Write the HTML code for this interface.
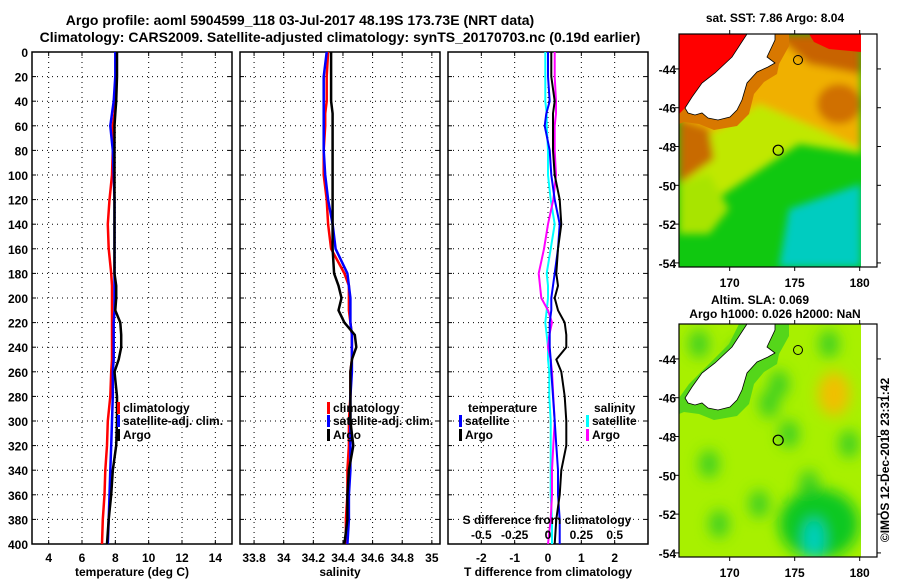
<!DOCTYPE html>
<html><head><meta charset="utf-8"><style>
html,body{margin:0;padding:0;background:#fff}
svg{display:block;font-family:"Liberation Sans",Arial,sans-serif;font-weight:bold}
</style></head><body>
<svg id="chart" width="900" height="580" viewBox="0 0 900 580" xmlns="http://www.w3.org/2000/svg">
<defs>
<filter id="blur3" x="-20%" y="-20%" width="140%" height="140%"><feGaussianBlur stdDeviation="4"/></filter>
<filter id="blur6" x="-30%" y="-30%" width="160%" height="160%"><feGaussianBlur stdDeviation="7"/></filter>
<clipPath id="clipTop"><rect x="679" y="34" width="182" height="233"/></clipPath>
<clipPath id="clipBot"><rect x="679" y="324" width="182" height="233"/></clipPath>
</defs>
<text x="300" y="25" font-size="14" text-anchor="middle">Argo profile: aoml 5904599_118 03-Jul-2017 48.19S 173.73E (NRT data)</text>
<text x="340" y="42" font-size="14" text-anchor="middle">Climatology: CARS2009. Satellite-adjusted climatology: synTS_20170703.nc (0.19d earlier)</text>
<g id="panels"></g>
<g id="maps"></g>
</svg>
<script>
// ---- data ----
const depths = [0,20,40,50,60,80,100,120,140,160,180,190,200,210,220,230,240,250,260,280,300,320,340,360,380,400];
const tempArgo = [8.1,8.1,8.05,8.0,7.95,7.95,7.95,7.95,7.95,7.95,7.95,8.05,8.05,8.0,8.3,8.35,8.35,8.2,7.95,8.1,8.1,8.05,7.85,7.75,7.6,7.5];
const tempClim = [8.05,8.05,8.0,7.95,7.85,7.85,7.8,7.65,7.55,7.6,7.75,7.8,7.8,7.8,7.8,7.8,7.8,7.8,7.75,7.7,7.55,7.5,7.4,7.35,7.25,7.2];
const tempSat = [8.0,8.0,7.9,7.8,7.7,7.85,7.9,7.95,7.95,7.95,7.95,7.95,7.95,7.95,7.9,7.9,7.9,7.9,7.85,7.85,7.8,7.75,7.7,7.65,7.6,7.55];
const salArgo = [34.32,34.32,34.32,34.33,34.33,34.33,34.33,34.33,34.33,34.33,34.34,34.37,34.39,34.37,34.41,34.48,34.49,34.46,34.45,34.45,34.45,34.47,34.44,34.43,34.43,34.41];
const salClim = [34.3,34.29,34.29,34.28,34.28,34.27,34.27,34.29,34.3,34.32,34.41,34.44,34.44,34.44,34.45,34.46,34.46,34.46,34.45,34.45,34.44,34.44,34.43,34.43,34.42,34.42];
const salSat = [34.29,34.27,34.27,34.27,34.27,34.27,34.28,34.3,34.33,34.35,34.43,34.44,34.45,34.45,34.45,34.46,34.46,34.46,34.46,34.45,34.45,34.45,34.45,34.44,34.44,34.43];
const dTArgo = [0.1,0.1,0.2,0.15,0.15,0.15,0.2,0.35,0.4,0.3,0.25,0.3,0.2,0.3,0.5,0.55,0.55,0.25,0.4,0.5,0.55,0.55,0.4,0.35,0.25,0.2];
const dTSat = [0.0,0.0,0.05,-0.05,-0.1,0.05,0.1,0.2,0.35,0.3,0.2,0.15,0.1,0.1,0.05,0.05,0.05,0.08,0.1,0.15,0.2,0.25,0.3,0.3,0.35,0.35];
const dSSat = [-0.02,-0.02,-0.02,-0.01,-0.01,0.0,0.0,0.02,0.05,0.02,-0.01,0.0,0.0,-0.01,-0.02,-0.01,0.0,0.0,0.01,0.01,0.02,0.02,0.02,0.02,0.03,0.03];
const dSArgo = [0.05,0.05,0.06,0.06,0.05,0.05,0.06,0.04,0.0,-0.03,-0.07,-0.06,-0.05,0.0,0.03,0.01,0.0,0.02,0.03,0.04,0.05,0.04,0.03,0.03,0.02,0.0];
const depthTicks = [0,20,40,60,80,100,120,140,160,180,200,220,240,260,280,300,320,340,360,380,400];
const tempTicks = [4,6,8,10,12,14];
const salTicks = [33.8,34,34.2,34.4,34.6,34.8,35];
const salTickLabels = ["33.8","34","34.2","34.4","34.6","34.8","35"];
const dTTicks = [-2,-1,0,1,2];
const dSTicks = [-0.5,-0.25,0,0.25,0.5];
const latTicks = [-44,-46,-48,-50,-52,-54];
const lonTicks = [170,175,180];

const NS="http://www.w3.org/2000/svg";
const gp=document.getElementById('panels');
function mk(tag,attrs,parent){const e=document.createElementNS(NS,tag);for(const k in attrs)e.setAttribute(k,attrs[k]);(parent||gp).appendChild(e);return e;}
const Y0=52,Y1=544;
const yD=d=>Y0+(d/400)*(Y1-Y0);

function panel(name,x0,x1,vmin,vmax,ticks,labels,showDepthLabels,xlabel){
  const xs=v=>x0+(v-vmin)/(vmax-vmin)*(x1-x0);
  const g=mk('g',{});
  
  
  depthTicks.forEach(d=>{
    if(d>0&&d<400){const l=mk('line',{x1:x0,x2:x1,y1:yD(d),y2:yD(d),stroke:'#000','stroke-width':1,'stroke-dasharray':'1,4'},g);
    }
    mk('line',{x1:x0,x2:x0+4,y1:yD(d),y2:yD(d),stroke:'#000'},g);
    mk('line',{x1:x1,x2:x1-4,y1:yD(d),y2:yD(d),stroke:'#000'},g);
    if(showDepthLabels){const t=mk('text',{x:x0-4,y:yD(d)+5,'font-size':12,'text-anchor':'end'},g);t.textContent=d;
      }
  });
  ticks.forEach((v,i)=>{
    const X=xs(v);
    const l=mk('line',{x1:X,x2:X,y1:Y0,y2:Y1,stroke:'#000','stroke-width':1,'stroke-dasharray':'1,4'},g);
    
    mk('line',{x1:X,x2:X,y1:Y1,y2:Y1-4,stroke:'#000'},g);
    mk('line',{x1:X,x2:X,y1:Y0,y2:Y0+4,stroke:'#000'},g);
    const t=mk('text',{x:X,y:Y1+18,'font-size':12,'text-anchor':'middle'},g);t.textContent=labels[i];
    
  });
  const r=mk('rect',{x:x0,y:Y0,width:x1-x0,height:Y1-Y0,fill:'none',stroke:'#000','stroke-width':1.5},g);
  
  const t=mk('text',{x:(x0+x1)/2,y:576,'font-size':12,'text-anchor':'middle'},g);t.textContent=xlabel;
  
  return {xs,g};
}
function line(p,vals,color,name,w){
  const pts=vals.map((v,i)=>p.xs(v).toFixed(1)+','+yD(depths[i]).toFixed(1)).join(' ');
  const l=mk('polyline',{points:pts,fill:'none',stroke:color,'stroke-width':w||2.5,'stroke-linejoin':'round'},p.g);
  
}
function legend(g,x,y,color,text,name){
  const m=mk('rect',{x:x,y:y-10,width:3,height:12,fill:color},g);
  
  const t=mk('text',{x:x+6,y:y,'font-size':12},g);t.textContent=text;
  
}
// Panel 1
const p1=panel('temperature',32,232,3,15,tempTicks,tempTicks.map(String),true,'temperature (deg C)');
line(p1,tempClim,'#f00','temp-climatology-line');
line(p1,tempSat,'#00f','temp-satellite-line');
line(p1,tempArgo,'#000','temp-argo-line');
legend(p1.g,117,412,'#f00','climatology','legend-climatology');
legend(p1.g,117,425,'#00f','satellite-adj. clim.','legend-satellite');
legend(p1.g,117,439,'#000','Argo','legend-argo');
// Panel 2
const p2=panel('salinity',240,440,33.705,35.055,salTicks,salTickLabels,false,'salinity');
line(p2,salClim,'#f00','sal-climatology-line');
line(p2,salSat,'#00f','sal-satellite-line');
line(p2,salArgo,'#000','sal-argo-line');
legend(p2.g,327,412,'#f00','climatology','legend-climatology-sal');
legend(p2.g,327,425,'#00f','satellite-adj. clim.','legend-satellite-sal');
legend(p2.g,327,439,'#000','Argo','legend-argo-sal');
// Panel 3
const p3=panel('difference',448,648,-3,3,dTTicks,dTTicks.map(String),false,'T difference from climatology');
const p3s={xs:v=>448+(v+0.75)/1.5*200,g:p3.g};
line(p3s,dSSat,'#0ff','sdiff-satellite-line',2);
line(p3s,dSArgo,'#f0f','sdiff-argo-line',2);
line(p3,dTSat,'#00f','tdiff-satellite-line',2);
line(p3,dTArgo,'#000','tdiff-argo-line',2);
(function(){const t=mk('text',{x:468,y:412,'font-size':12},p3.g);t.textContent='temperature';

const s=mk('text',{x:594,y:412,'font-size':12},p3.g);s.textContent='salinity';
})();
legend(p3.g,459,425,'#00f','satellite','legend-t-satellite');
legend(p3.g,459,439,'#000','Argo','legend-t-argo');
legend(p3.g,586,425,'#0ff','satellite','legend-s-satellite');
legend(p3.g,586,439,'#f0f','Argo','legend-s-argo');
(function(){const t=mk('text',{x:547,y:524,'font-size':12,'text-anchor':'middle'},p3.g);t.textContent='S difference from climatology';

dSTicks.forEach(v=>{const x=p3s.xs(v);const l=mk('text',{x:x,y:539,'font-size':12,'text-anchor':'middle'},p3.g);l.textContent=String(v);
});})();

// ---- maps ----
const gm=document.getElementById('maps');
function mm(tag,a,p){return mk(tag,a,p||gm);}
const island="68,0 96,0 96,6 88,23 96,29 89,33 78,38 68,49 63,66 58,76 51,83 39,86 29,84 23,79 16,81 9,79 6,74 13,63 23,49 36,39 53,23";
const redSea="0,0 68,0 53,23 36,39 23,49 13,63 6,74 0,80";
const fringe="60,0 110,0 110,12 100,30 98,40 85,48 75,60 70,80 58,92 35,96 20,90 5,88 0,90 0,74 10,60 30,40 50,20";
function map(name,top,title1,title2,isSST){
  const g=mm('g',{});
  
  const L=679;
  const clipId=isSST?'clipTop':'clipBot';
  const img=mm('g',{'clip-path':'url(#'+clipId+')'},g);
  
  const tr=(pts)=>pts.split(' ').map(p=>{const [a,b]=p.split(',').map(Number);return (L+a)+','+(top+b);}).join(' ');
  if(isSST){
    mm('rect',{x:L,y:top,width:182,height:233,fill:'#10c810'},img);
    const bl=mm('g',{filter:'url(#blur3)'},img);
    mm('polygon',{points:tr("0,60 182,60 182,120 120,110 60,150 0,190"),fill:'#c0e800'},bl);
    mm('polygon',{points:tr("0,0 182,0 182,115 140,95 80,70 40,95 0,110"),fill:'#f0b000'},bl);
    mm('polygon',{points:tr("95,0 182,0 182,40 130,30"),fill:'#c86400'},bl);
    mm('ellipse',{cx:L+160,cy:top+70,rx:22,ry:20,fill:'#d07000'},bl);
    mm('polygon',{points:tr("0,85 30,95 35,125 0,150"),fill:'#c86a00'},bl);
    mm('polygon',{points:tr("0,150 30,140 50,175 30,200 0,200"),fill:'#a8e400'},bl);
    mm('polygon',{points:tr("110,175 182,150 182,233 100,233"),fill:'#00ccc0'},bl);
    mm('polygon',{points:tr("130,0 182,0 182,18 150,15 135,8"),fill:'#ff0000'},img);
    mm('polygon',{points:tr(fringe),fill:'#d87800'},img);
    mm('polygon',{points:tr(redSea),fill:'#ff0000'},img);
  } else {
    mm('rect',{x:L,y:top,width:182,height:233,fill:'#a8f000'},img);
    const bl=mm('g',{filter:'url(#blur6)'},img);
    [[20,20],[60,30],[100,60],[150,20],[30,140],[80,180],[110,110],[170,120],[130,160],[40,200],[150,200],[90,80]].forEach(c=>{
      mm('ellipse',{cx:L+c[0],cy:top+c[1],rx:10,ry:14,fill:'#40d020'},bl);});
    mm('ellipse',{cx:L+155,cy:top+70,rx:16,ry:22,fill:'#f0c000'},bl);
    mm('ellipse',{cx:L+140,cy:top+200,rx:40,ry:35,fill:'#10c820'},bl);
    mm('ellipse',{cx:L+135,cy:top+215,rx:10,ry:20,fill:'#00d0c0'},bl);
    mm('polygon',{points:tr(fringe),fill:'#40d020',opacity:0.8},img);
  }
  const isl=mm('polygon',{points:tr(island),fill:'#fff',stroke:'#000','stroke-width':0.8},img);
  
  mm('rect',{x:L+182,y:top,width:16,height:233,fill:'#fff'},g);
  const c=mm('circle',{cx:L+(173.73-166.1)*13,cy:top+(48.19-42.2)*19.4,r:5,fill:'none',stroke:'#000','stroke-width':1.2},g);
  
  mm('circle',{cx:L+119,cy:top+26,r:4.5,fill:'none',stroke:'#000','stroke-width':1},g);
  const fr=mm('rect',{x:L,y:top,width:198,height:233,fill:'none',stroke:'#000','stroke-width':1.2},g);
  
  latTicks.forEach(v=>{const y=top+(-42.2-v)*19.4;
    mm('line',{x1:L-4,x2:L,y1:y,y2:y,stroke:'#000'},g);mm('line',{x1:L+198,x2:L+202,y1:y,y2:y,stroke:'#000'},g);
    const t=mm('text',{x:L-3,y:y+5,'font-size':12,'text-anchor':'end'},g);t.textContent=String(v);
    });
  lonTicks.forEach(v=>{const x=L+(v-166.1)*13;
    mm('line',{x1:x,x2:x,y1:top-4,y2:top,stroke:'#000'},g);mm('line',{x1:x,x2:x,y1:top+233,y2:top+237,stroke:'#000'},g);
    const t=mm('text',{x:x,y:top+253,'font-size':12,'text-anchor':'middle'},g);t.textContent=String(v);
    });
  const t1=mm('text',{x:title2?760:775,y:title2?top-20:top-12,'font-size':12,'text-anchor':'middle'},g);t1.textContent=title1;
  
  if(title2){const t2=mm('text',{x:775,y:top-6,'font-size':12,'text-anchor':'middle'},g);t2.textContent=title2;
    }
}
map('sst-map',34,'sat. SST: 7.86 Argo: 8.04',null,true);
map('sla-map',324,'Altim. SLA: 0.069','Argo h1000: 0.026 h2000: NaN',false);
const cr=mm('text',{x:0,y:0,'font-size':12,'text-anchor':'middle',transform:'translate(889,460) rotate(-90)'});
cr.textContent='©IMOS 12-Dec-2018 23:31:42';

</script>
</body></html>
